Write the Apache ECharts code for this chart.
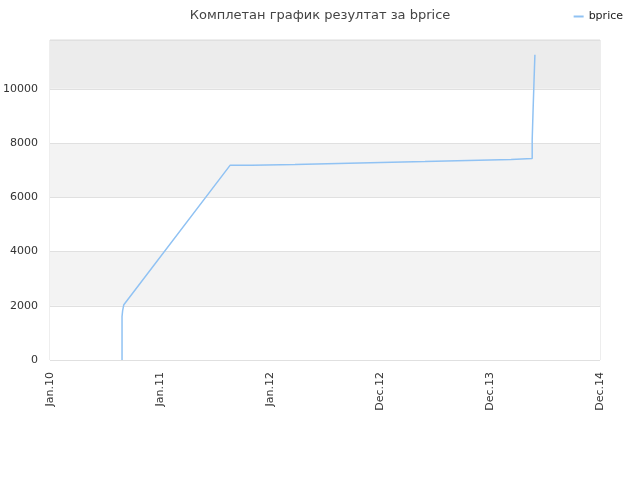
<!DOCTYPE html>
<html>
<head>
<meta charset="utf-8">
<script src="https://cdn.jsdelivr.net/npm/echarts@6/dist/echarts.min.js"></script>
<style>html,body{margin:0;padding:0;background:#fff}#c{width:640px;height:480px}</style>
</head>
<body>
<div id="c"></div>
<script>
// x values are days since 2010-01-01
const xTickLabels = ['Jan.10', 'Jan.11', 'Jan.12', 'Dec.12', 'Dec.13', 'Dec.14'];
const days = [239, 239, 241, 245, 598, 670, 670, 813, 813, 956, 956, 1098, 1098, 1244, 1244, 1387, 1387, 1530, 1530, 1600, 1600, 1603, 1603, 1606, 1606, 1609, 1609];
const bprice = [0, 1600, 1820, 2040, 7185, 7185, 7207, 7207, 7244, 7244, 7280, 7280, 7317, 7317, 7354, 7354, 7391, 7391, 7428, 7428, 8118, 8118, 9225, 9225, 10270, 10270, 11255];
const seriesName = 'bprice';
const titleText = 'Комплетан график резултат за bprice';

const data = days.map((d, i) => [d, bprice[i]]);
const chart = echarts.init(document.getElementById('c'));
chart.setOption({
  animation: false,
  backgroundColor: '#fff',
  textStyle: { fontFamily: 'DejaVu Sans' },
  title: {
    text: titleText, left: 'center', top: 4,
    textStyle: { fontSize: 13, fontWeight: 'normal', color: '#444', fontFamily: 'DejaVu Sans' }
  },
  legend: {
    right: 12, top: 6, itemWidth: 10, itemHeight: 2, itemGap: 8,
    icon: 'rect',
    textStyle: { fontSize: 11, color: '#222', fontFamily: 'DejaVu Sans' },
    data: [seriesName]
  },
  grid: { left: 50, right: 40, top: 40, bottom: 120, show: true, borderColor: '#dcdcdc', borderWidth: 1, containLabel: false },
  xAxis: {
    type: 'value', min: 0, max: 1825, interval: 365,
    axisLine: { show: false }, axisTick: { show: false },
    splitLine: { show: false },
    axisLabel: {
      rotate: 90, fontSize: 11, color: '#333', margin: 12,
      formatter: v => xTickLabels[Math.round(v / 365)] || ''
    }
  },
  yAxis: {
    type: 'value', min: 0, max: 11800, interval: 2000,
    axisLine: { show: false }, axisTick: { show: false },
    axisLabel: { fontSize: 11, color: '#333', margin: 12, showMaxLabel: false,
      formatter: v => (v % 2000 === 0 ? String(v) : '') },
    splitLine: { show: true, lineStyle: { color: '#e0e0e0', width: 1 } },
    splitArea: { show: true, areaStyle: { color: ['#ffffff', '#f3f3f3', '#ffffff', '#f3f3f3', '#ffffff', '#ececec'] } }
  },
  series: [{
    name: seriesName, type: 'line', data: data,
    showSymbol: false, symbol: 'none',
    lineStyle: { color: '#90c2f3', width: 1.5 },
    itemStyle: { color: '#90c2f3' }
  }]
});
</script>
</body>
</html>
